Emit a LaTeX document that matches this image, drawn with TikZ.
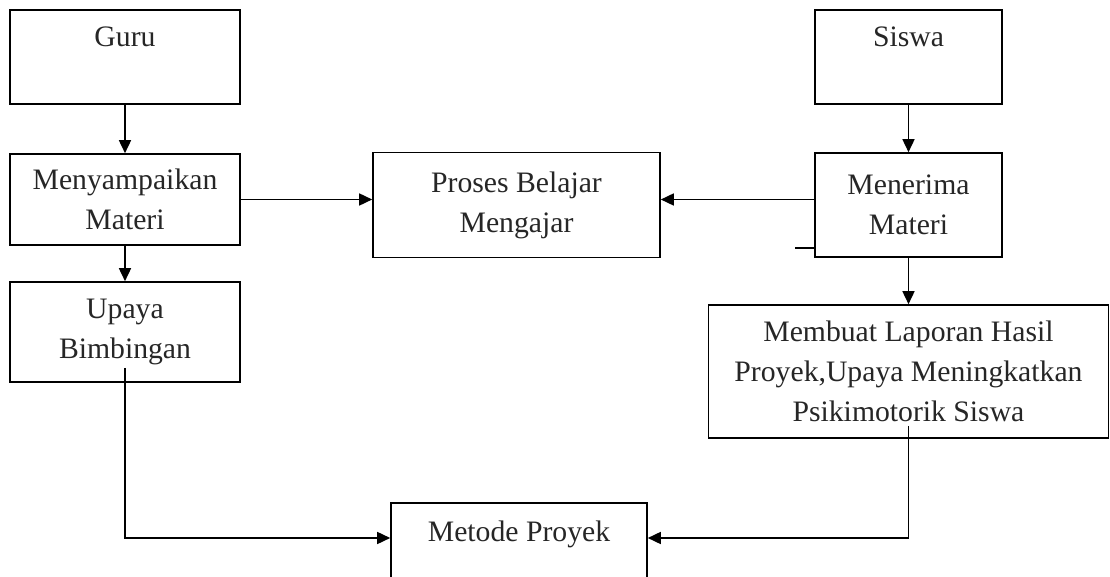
\documentclass[tikz,border=0pt]{standalone}
\usepackage{fontspec}
\setmainfont{Liberation Serif}
\usetikzlibrary{arrows.meta, positioning}
\tikzstyle{arrow} = [line width=0.8pt,-{Triangle[length=6.5pt,width=6pt]}]
\tikzstyle{line} = [line width=0.8pt]

\begin{document}
\begin{tikzpicture}[main/.style = {draw, line width=0.8pt, align=center, inner sep=0pt, text=black!85, font=\fontsize{14.85}{20}\selectfont}]
\useasboundingbox (0,0) rectangle (555pt,-288.5pt);

\node[main, minimum width=115pt, minimum height=47pt] (guru) at (62.5pt,-28.5pt) {Guru\\ ~};
\node[main, minimum width=115pt, minimum height=45.5pt] (menyampaikan) [below of=guru, node distance=71.25pt] {Menyampaikan\\Materi};
\node[main, minimum width=115pt, minimum height=50pt] (upaya) [below of=menyampaikan, node distance=66.25pt] {Upaya\\Bimbingan};

\node[main, minimum width=93.5pt, minimum height=47pt] (siswa) at (454.25pt,-28.5pt) {Siswa\\ ~};
\node[main, minimum width=93.5pt, minimum height=52pt] (menerima) [below of=siswa, node distance=74pt] {Menerima\\Materi};
\node[main, minimum width=143.5pt, minimum height=52.5pt] (proses) [left of=menerima, node distance=196pt] {Proses Belajar\\Mengajar};
\node[main, minimum width=200pt, minimum height=66.5pt] (membuat) [below of=menerima, node distance=83.25pt] {Membuat Laporan Hasil\\Proyek,Upaya Meningkatkan\\Psikimotorik Siswa};

\node[main, minimum width=128pt, minimum height=48pt] (metode) at (259.5pt,-275.5pt) {Metode Proyek\\ ~};
\coordinate (stub) at (397.5pt,-124pt);

\draw[arrow] (guru) -- (menyampaikan);
\draw[arrow] (menyampaikan) -- (upaya);
\draw[arrow] (siswa) -- (menerima);
\draw[arrow] (menerima) -- (membuat);
\draw[arrow] (menyampaikan.east) -- (menyampaikan.east -| proses.west);
\draw[arrow] (menerima.west |- menyampaikan.east) -- (proses.east |- menyampaikan.east);
\draw[line] (stub) -- (stub -| menerima.west);
\draw[arrow] ([yshift=7.5pt]upaya.south) |- ([yshift=6.5pt]metode.west);
\draw[arrow] ([yshift=6.5pt]membuat.south) |- ([yshift=6.5pt]metode.east);
\end{tikzpicture}
\end{document}
